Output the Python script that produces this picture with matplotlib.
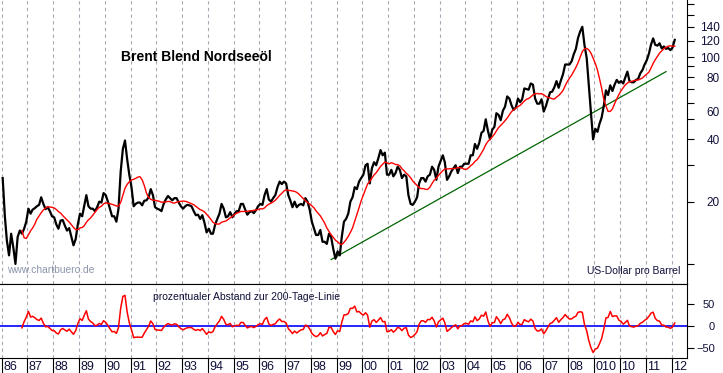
import pandas as pd
import matplotlib
matplotlib.use('Agg')
import matplotlib.pyplot as plt
import matplotlib.dates as mdates
import matplotlib.transforms as mtransforms

plt.rcParams['font.family'] = ['Liberation Sans', 'DejaVu Sans']

brent = [
    26.0, 17.0, 13.0, 11.0, 14.0, 12.0, 10.0, 13.5, 14.5, 14.0, 14.8, 16.0,   # 1986
    18.5, 17.5, 18.3, 18.6, 19.0, 19.3, 21.0, 19.5, 18.4, 18.8, 18.0, 17.0,   # 1987
    16.8, 15.5, 14.8, 16.2, 16.3, 15.3, 14.5, 14.9, 13.5, 12.3, 13.2, 15.5,   # 1988
    17.5, 17.0, 19.0, 21.5, 19.0, 18.5, 18.5, 18.0, 18.8, 20.0, 19.8, 22.0,   # 1989
    21.5, 20.0, 18.5, 17.0, 17.0, 16.0, 18.5, 28.0, 36.0, 39.5, 32.0, 27.0,   # 1990
    23.5, 19.0, 19.5, 19.8, 19.8, 19.2, 20.2, 20.3, 21.0, 23.0, 21.5, 18.8,   # 1991
    18.5, 18.3, 18.0, 19.5, 20.5, 21.3, 20.8, 20.3, 20.8, 20.8, 19.8, 19.0,   # 1992
    18.5, 19.0, 19.3, 19.2, 19.0, 18.0, 17.2, 17.3, 16.5, 17.2, 15.8, 14.2,   # 1993
    14.8, 14.0, 14.0, 15.5, 16.5, 17.5, 19.5, 18.5, 16.8, 17.0, 17.8, 16.8,   # 1994
    17.5, 18.0, 18.0, 19.5, 19.5, 18.3, 17.3, 17.8, 18.0, 17.6, 18.2, 19.0,   # 1995
    19.5, 19.3, 21.5, 23.0, 20.5, 20.0, 20.8, 21.5, 23.5, 25.0, 24.3, 25.0,   # 1996
    24.5, 21.5, 20.3, 18.8, 20.0, 18.8, 19.3, 19.5, 19.2, 20.8, 20.0, 18.3,   # 1997
    16.0, 14.8, 13.8, 13.8, 14.6, 12.8, 12.8, 12.5, 14.0, 13.5, 11.8, 10.6,   # 1998
    11.5, 11.0, 13.5, 16.0, 16.5, 17.5, 20.0, 21.0, 23.5, 23.0, 25.0, 26.0,   # 1999
    27.0, 30.0, 30.5, 24.5, 29.0, 31.0, 30.0, 32.5, 35.5, 33.5, 34.5, 27.0,   # 2000
    27.0, 28.5, 26.5, 27.5, 29.5, 28.5, 26.0, 27.0, 26.5, 21.5, 19.5, 19.3,   # 2001
    20.0, 21.0, 24.5, 26.0, 26.0, 25.0, 26.5, 27.0, 29.5, 28.5, 25.5, 29.5,   # 2002
    31.5, 33.5, 31.0, 25.5, 26.5, 28.0, 29.0, 30.0, 27.5, 29.5, 29.5, 30.5,   # 2003
    30.5, 30.5, 33.5, 33.5, 38.0, 36.0, 38.5, 43.0, 44.0, 50.0, 44.0, 40.0,   # 2004
    44.5, 46.0, 53.5, 52.5, 49.5, 55.0, 57.5, 64.5, 63.0, 58.5, 55.5, 57.0,   # 2005
    63.0, 60.5, 62.5, 70.5, 70.0, 69.5, 74.5, 73.5, 63.0, 59.5, 59.5, 62.5,   # 2006
    54.5, 58.0, 62.5, 67.5, 68.0, 71.5, 76.5, 71.0, 77.0, 82.5, 92.0, 92.0,   # 2007
    92.0, 95.5, 103.0, 109.5, 123.5, 133.0, 140.0, 114.0, 99.0, 73.0, 53.5, 40.0,  # 2008
    45.0, 43.5, 47.5, 51.0, 58.0, 69.0, 65.5, 73.0, 68.5, 73.5, 77.5, 75.0,   # 2009
    76.5, 74.5, 79.5, 85.0, 76.5, 75.5, 75.5, 77.5, 78.5, 83.5, 86.5, 92.0,   # 2010
    96.5, 104.0, 114.5, 123.0, 114.5, 113.5, 116.5, 110.0, 112.5, 109.5, 110.5, 108.0,  # 2011
    111.0, 121.0,                                                             # 2012
]
first_month = '1986-01-01'

# gruene Trendlinie (Anfang / Ende)
trend_dates = ['1998-10-15', '2011-10-15']
trend_values = [10.5, 85.0]

year_labels = ['86', '87', '88', '89', '90', '91', '92', '93', '94', '95', '96', '97',
               '98', '99', '00', '01', '02', '03', '04', '05', '06', '07', '08', '010',
               '10', '11', '12']
price_ticks = [10, 20, 30, 40, 50, 60, 70, 80, 90, 100, 120, 140, 160, 180]
price_labels = ['', '20', '', '40', '', '', '', '80', '', '100', '120', '140', '', '']
pct_ticks = [-50, 0, 50]

dates = pd.date_range(first_month, periods=len(brent), freq='MS') + pd.Timedelta(days=14)
price = pd.Series(brent, index=dates)
ma200 = price.rolling(10).mean()          # ~200 Handelstage
abstand = (price / ma200 - 1) * 100

year_starts = pd.date_range('1986-01-01', periods=len(year_labels), freq='YS')

txt_col = '#10103a'
grid_col = '#aaa6b4'

fig = plt.figure(figsize=(7.23, 3.73), dpi=100)
ax = fig.add_axes([0, 0.2386, 0.9502, 0.7614])
ax2 = fig.add_axes([0, 0.0402, 0.9502, 0.1984], sharex=ax)

# oberes Panel
for d in year_starts:
    ax.axvline(d, color=grid_col, lw=0.8, ls=(0, (3, 3)), zorder=0)
ax.plot(price.index, price.values, color='black', lw=1.6, zorder=3)
ax.plot(ma200.index, ma200.values, color='#ff0000', lw=1.0, zorder=4)
ax.plot(pd.to_datetime(trend_dates), trend_values, color='#006400', lw=0.9, zorder=2)

ax.set_yscale('log')
ax.set_ylim(8.0, 188.6)
ax.set_xlim(pd.Timestamp('1985-12-08'), pd.Timestamp('2012-08-07'))
ax.yaxis.tick_right()
ax.set_yticks(price_ticks)
ax.set_yticklabels(price_labels)
ax.yaxis.set_minor_locator(matplotlib.ticker.NullLocator())
ax.tick_params(axis='y', direction='out', length=5, width=0.8, pad=18.5,
               labelsize=8.5, labelcolor=txt_col)
for lab in ax.get_yticklabels():
    lab.set_horizontalalignment('right')
ax.text(1.048, 53.5, '60', transform=mtransforms.blended_transform_factory(ax.transAxes, ax.transData),
        ha='right', va='center', fontsize=8.5, color=txt_col)
ax.tick_params(axis='x', bottom=False, labelbottom=False)
for side in ['left', 'top']:
    ax.spines[side].set_visible(False)

ax.text(0.1757, 0.80, 'Brent Blend Nordseeöl', transform=ax.transAxes, fontsize=10,
        fontweight='bold', color='black', va='center', ha='left')
ax.text(0.0106, 0.049, 'www.chartbuero.de', transform=ax.transAxes, fontsize=7.4,
        color='#8c96aa', va='center', ha='left')
ax.text(0.991, 0.047, 'US-Dollar pro Barrel', transform=ax.transAxes, fontsize=7.5,
        color=txt_col, va='center', ha='right')

# unteres Panel
for d in year_starts:
    ax2.axvline(d, color=grid_col, lw=0.8, ls=(0, (3, 3)), zorder=0)
ax2.axhline(0, color='#0000ff', lw=1.2, zorder=2)
ax2.plot(abstand.index, abstand.values, color='#ff0000', lw=1.1, zorder=3)
ax2.set_ylim(-72, 96)
ax2.yaxis.tick_right()
ax2.set_yticks(pct_ticks)
ax2.tick_params(axis='y', direction='out', length=5, width=0.8, pad=15,
                labelsize=8, labelcolor=txt_col)
for lab in ax2.get_yticklabels():
    lab.set_horizontalalignment('right')
ax2.spines['left'].set_visible(False)
ax2.text(0.2223, 0.828, 'prozentualer Abstand zur 200-Tage-Linie', transform=ax2.transAxes,
         fontsize=7.5, color=txt_col, va='center', ha='left')

ax2.set_xticks(year_starts)
ax2.tick_params(axis='x', direction='out', length=11, width=0.8, labelbottom=False)
trans = mtransforms.blended_transform_factory(ax2.transData, ax2.transAxes)
for d, lab in zip(year_starts, year_labels):
    ax2.text(mdates.date2num(d) + 20, -0.04, lab, transform=trans, ha='left', va='top',
             fontsize=9, color=txt_col, clip_on=False)

fig.savefig('out.png', dpi=100)
